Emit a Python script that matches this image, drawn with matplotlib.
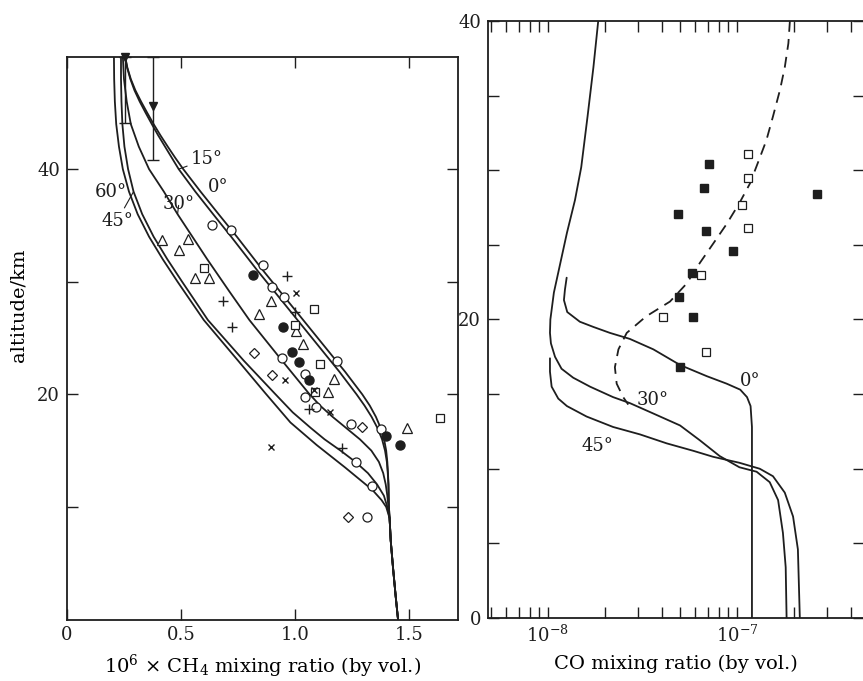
import numpy as np
import matplotlib.pyplot as plt
from matplotlib.ticker import FixedLocator, NullFormatter

plt.rcParams['font.family'] = ['DejaVu Serif']
plt.rcParams['mathtext.fontset'] = 'dejavuserif'
plt.rcParams['font.size'] = 13

INK = '#1e1e1e'

# --- CH4 model profiles (10^6 x mixing ratio vs altitude in km) ---
ch4_tail_x = [1.415, 1.42, 1.43, 1.442, 1.452]
ch4_tail_z = [9, 7, 4.6, 2, 0]

ch4_0_z = [50, 49, 48, 47, 46, 45, 44, 43, 42, 41, 40, 38, 36, 34, 31, 28, 25, 22, 20, 19,
           18, 17, 16, 15, 14, 13, 12, 11, 10]
ch4_0_x = [0.255, 0.265, 0.28, 0.30, 0.325, 0.352, 0.38, 0.41, 0.442, 0.475, 0.51, 0.586,
           0.665, 0.745, 0.86, 0.98, 1.10, 1.22, 1.295, 1.328, 1.355, 1.376, 1.391, 1.40,
           1.405, 1.408, 1.41, 1.411, 1.412]
ch4_15_z = ch4_0_z
ch4_15_x = [0.255, 0.264, 0.278, 0.296, 0.319, 0.345, 0.372, 0.40, 0.43, 0.46, 0.49, 0.563,
            0.641, 0.72, 0.835, 0.955, 1.075, 1.195, 1.27, 1.305, 1.336, 1.362, 1.382, 1.395,
            1.403, 1.407, 1.41, 1.411, 1.412]
ch4_30_z = [50, 48, 46, 44, 42, 40, 38, 36, 34, 32, 29.2, 26.6, 23.2, 20.1, 19, 18, 17, 16,
            15, 14, 13, 12, 11, 10]
ch4_30_x = [0.245, 0.25, 0.262, 0.28, 0.315, 0.36, 0.425, 0.485, 0.55, 0.615, 0.71, 0.80,
            0.935, 1.06, 1.11, 1.165, 1.225, 1.285, 1.335, 1.368, 1.387, 1.398, 1.405, 1.41]
ch4_45_z = [50, 48, 46, 44, 42, 40, 38, 36, 34, 32, 30, 26.6, 23, 20.1, 18.4, 17, 16, 15, 14,
            13, 12, 11, 10]
ch4_45_x = [0.237, 0.237, 0.239, 0.243, 0.252, 0.268, 0.292, 0.33, 0.38, 0.44, 0.505, 0.618,
            0.775, 0.91, 0.99, 1.07, 1.13, 1.20, 1.265, 1.32, 1.36, 1.39, 1.405]
ch4_60_z = [50, 48, 46, 44, 42, 40, 38, 36, 34, 32, 30, 26.6, 23, 20.1, 17.5, 15.5, 13.5,
            12.5, 11.5, 10.6, 10]
ch4_60_x = [0.206, 0.207, 0.21, 0.216, 0.228, 0.245, 0.272, 0.31, 0.36, 0.42, 0.485, 0.60,
            0.75, 0.87, 0.98, 1.095, 1.22, 1.28, 1.34, 1.38, 1.40]

# --- CH4 observations ---
obs_circle_x = [0.636, 0.719, 0.86, 0.90, 0.95, 0.943, 1.184, 1.044, 1.044, 1.092, 1.246, 1.377, 1.268, 1.338, 1.316]
obs_circle_z = [35.0, 34.6, 31.5, 29.5, 28.6, 23.2, 23.0, 21.8, 19.8, 18.9, 17.4, 16.9, 14.0, 11.9, 9.1]
obs_tri_x = [0.417, 0.531, 0.491, 0.561, 0.623, 0.895, 0.842, 1.005, 1.035, 1.171, 1.145, 1.491]
obs_tri_z = [33.7, 33.8, 32.8, 30.3, 30.3, 28.3, 27.1, 25.6, 24.5, 21.4, 20.2, 17.0]
obs_sq_x = [0.60, 1.083, 1.0, 1.11, 1.088, 1.636]
obs_sq_z = [31.2, 27.6, 26.2, 22.7, 20.2, 17.9]
obs_dia_x = [0.82, 0.899, 1.294, 1.232]
obs_dia_z = [23.7, 21.7, 17.1, 9.1]
obs_dot_x = [0.816, 0.947, 0.987, 1.018, 1.061, 1.399, 1.46]
obs_dot_z = [30.6, 26.0, 23.8, 22.9, 21.3, 16.3, 15.5]
obs_plus_x = [0.965, 0.684, 0.724, 1.061, 1.206, 1.0]
obs_plus_z = [30.5, 28.3, 26.0, 18.7, 15.2, 27.3]
obs_cross_x = [1.004, 0.956, 1.153, 0.895, 1.083]
obs_cross_z = [29.0, 21.3, 18.4, 15.3, 20.4]

# upper limits / ranges near the top
bar_x = [0.254, 0.377]
bar_mid = [50.0, 45.6]
bar_low = [44.1, 40.8]
bar_high = [50.0, 50.0]

# --- CO model profiles ---
co_0_z = [22.8, 22.0, 21.3, 20.5, 19.85, 19.5, 19.1, 18.7, 18.0, 16.95, 16.2, 15.7, 15.3,
          14.8, 14.2, 12.8, 0]
co_0_x = [1.256e-8, 1.23e-8, 1.215e-8, 1.265e-8, 1.475e-8, 1.74e-8, 2.13e-8, 2.71e-8,
          3.61e-8, 5.0e-8, 6.93e-8, 8.82e-8, 1.04e-7, 1.13e-7, 1.18e-7, 1.2e-7, 1.2e-7]
co_30_z = [40, 36.9, 33.6, 30.2, 28.0, 25.8, 23.5, 21.8, 20.0, 19.1, 18.4, 17.5, 16.7, 16.1,
           15.5, 14.8, 14.4, 13.7, 12.9, 11.9, 10.85, 10.1, 9.8, 9.1, 7.9, 5.7, 3.4, 0]
co_30_x = [1.845e-8, 1.74e-8, 1.62e-8, 1.5e-8, 1.39e-8, 1.26e-8, 1.15e-8, 1.075e-8,
           1.03e-8, 1.025e-8, 1.037e-8, 1.09e-8, 1.18e-8, 1.36e-8, 1.67e-8, 2.21e-8, 2.71e-8,
           3.61e-8, 5.0e-8, 6.37e-8, 8.1e-8, 1.03e-7, 1.27e-7, 1.49e-7, 1.65e-7, 1.75e-7,
           1.81e-7, 1.83e-7]
co_45_z = [17.4, 16.5, 15.5, 14.7, 14.2, 13.5, 12.8, 12.3, 11.7, 11.2, 10.8, 10.4, 10.0, 9.5,
           8.4, 6.8, 4.6, 0]
co_45_x = [1.025e-8, 1.025e-8, 1.046e-8, 1.134e-8, 1.26e-8, 1.6e-8, 2.21e-8, 3.07e-8,
           4.25e-8, 5.88e-8, 7.48e-8, 1.03e-7, 1.32e-7, 1.55e-7, 1.79e-7, 1.98e-7, 2.1e-7,
           2.15e-7]
co_dash_z = [40, 38.5, 36.9, 35.4, 33.6, 32.0, 30.5, 29.1, 27.8, 26.4, 25.1, 23.8, 22.4, 21.2,
             20.2, 19.1, 18.0, 16.8, 15.7, 14.8, 14.3]
co_dash_x = [1.905e-7, 1.87e-7, 1.79e-7, 1.69e-7, 1.55e-7, 1.43e-7, 1.29e-7, 1.17e-7,
             1.03e-7, 8.82e-8, 7.5e-8, 6.37e-8, 5.41e-8, 4.42e-8, 3.3e-8, 2.61e-8, 2.36e-8,
             2.26e-8, 2.31e-8, 2.5e-8, 2.66e-8]

# --- CO observations ---
co_open_x = [1.14e-7, 1.15e-7, 1.06e-7, 1.15e-7, 6.45e-8, 4.06e-8, 6.86e-8]
co_open_z = [31.1, 29.5, 27.7, 26.1, 23.0, 20.2, 17.8]
co_fill_x = [7.1e-8, 6.7e-8, 2.65e-7, 4.88e-8, 6.86e-8, 9.5e-8, 5.78e-8, 4.93e-8, 5.85e-8, 4.99e-8]
co_fill_z = [30.4, 28.8, 28.4, 27.1, 25.9, 24.6, 23.1, 21.5, 20.2, 16.8]

fig = plt.figure(figsize=(8.63, 6.81), dpi=100)
ax1 = fig.add_axes([0.0776, 0.0903, 0.4531, 0.8267])
ax2 = fig.add_axes([0.5655, 0.0925, 0.4357, 0.8767])

line_kw = dict(color=INK, lw=1.3, solid_joinstyle='round', solid_capstyle='round')

# left panel: methane
for xs, zs in [(ch4_0_x, ch4_0_z), (ch4_15_x, ch4_15_z), (ch4_30_x, ch4_30_z),
               (ch4_45_x, ch4_45_z), (ch4_60_x, ch4_60_z)]:
    ax1.plot(list(xs) + ch4_tail_x, list(zs) + ch4_tail_z, **line_kw)

open_kw = dict(linestyle='none', mfc='white', mec=INK, mew=0.9, zorder=3)
ax1.plot(obs_circle_x, obs_circle_z, 'o', ms=6.5, **open_kw)
ax1.plot(obs_tri_x, obs_tri_z, '^', ms=6.5, **open_kw)
ax1.plot(obs_sq_x, obs_sq_z, 's', ms=5.5, **open_kw)
ax1.plot(obs_dia_x, obs_dia_z, 'D', ms=5.5, **open_kw)
ax1.plot(obs_dot_x, obs_dot_z, 'o', ms=6.5, linestyle='none', color=INK, zorder=3)
ax1.plot(obs_plus_x, obs_plus_z, '+', ms=7, mew=1.0, linestyle='none', color=INK, zorder=3)
ax1.plot(obs_cross_x, obs_cross_z, 'x', ms=5, mew=1.0, linestyle='none', color=INK, zorder=3)

bar_mid = np.array(bar_mid)
ax1.errorbar(bar_x, bar_mid, yerr=[bar_mid - np.array(bar_low), np.array(bar_high) - bar_mid],
             fmt='v', ms=6, color=INK, ecolor=INK, elinewidth=1.0, capsize=4, capthick=1.0,
             clip_on=False, zorder=3)

lab_kw = dict(fontsize=13, color=INK)
leader = dict(arrowstyle='-', color=INK, lw=0.8, shrinkA=1, shrinkB=0)
ax1.annotate('15°', xy=(ch4_15_x[10], ch4_15_z[10]), xytext=(0.545, 40.9), va='center',
             arrowprops=leader, **lab_kw)
ax1.text(0.62, 38.4, '0°', va='center', **lab_kw)
ax1.annotate('30°', xy=(ch4_30_x[7], ch4_30_z[7]), xytext=(0.42, 36.9), va='center',
             arrowprops=leader, **lab_kw)
ax1.text(0.12, 38.0, '60°', va='center', **lab_kw)
ax1.annotate('45°', xy=(ch4_45_x[6], ch4_45_z[6]), xytext=(0.15, 35.4), va='center',
             arrowprops=leader, **lab_kw)

ax1.set_xlim(0, 1.715)
ax1.set_ylim(0, 50)
ax1.set_xticks([0, 0.5, 1.0, 1.5])
ax1.set_xticklabels(['0', '0.5', '1.0', '1.5'])
ax1.set_yticks([10, 20, 30, 40])
ax1.set_yticklabels(['', '20', '', '40'])
ax1.set_xlabel(r'10$^6$ $\times$ CH$_4$ mixing ratio (by vol.)', fontsize=14, labelpad=6)
ax1.set_ylabel('altitude/km', fontsize=14)
ax1.yaxis.set_label_coords(-0.10, 0.558)

# right panel: carbon monoxide
ax2.set_xscale('log')
ax2.plot(co_0_x, co_0_z, **line_kw)
ax2.plot(co_30_x, co_30_z, **line_kw)
ax2.plot(co_45_x, co_45_z, **line_kw)
ax2.plot(co_dash_x, co_dash_z, color=INK, lw=1.3, dashes=(6, 4))
ax2.plot(co_open_x, co_open_z, 's', ms=6, **open_kw)
ax2.plot(co_fill_x, co_fill_z, 's', ms=6, linestyle='none', color=INK, zorder=3)

ax2.text(1.04e-7, 15.9, '0°', va='center', **lab_kw)
ax2.text(2.95e-8, 14.6, '30°', va='center', **lab_kw)
ax2.text(1.5e-8, 11.5, '45°', va='center', **lab_kw)

ax2.set_xlim(4.82e-9, 4.7e-7)
ax2.set_ylim(0, 40)
ax2.xaxis.set_major_locator(FixedLocator([1e-8, 1e-7]))
ax2.set_xticklabels([r'$10^{-8}$', r'$10^{-7}$'])
minor = [m * 10.0 ** e for e in (-9, -8, -7) for m in range(2, 10)]
ax2.xaxis.set_minor_locator(FixedLocator(minor))
ax2.xaxis.set_minor_formatter(NullFormatter())
ax2.set_yticks(range(0, 41, 5))
ax2.set_yticklabels(['0', '', '', '', '20', '', '', '', '40'])
ax2.set_xlabel('CO mixing ratio (by vol.)', fontsize=14, labelpad=6)

for ax in (ax1, ax2):
    for sp in ax.spines.values():
        sp.set_linewidth(1.3)
        sp.set_color(INK)
    ax.tick_params(which='both', direction='in', top=True, right=True, length=8,
                   width=1.0, color=INK, labelsize=13, labelcolor=INK, pad=5)

fig.savefig('out.png', dpi=100, facecolor='white')
